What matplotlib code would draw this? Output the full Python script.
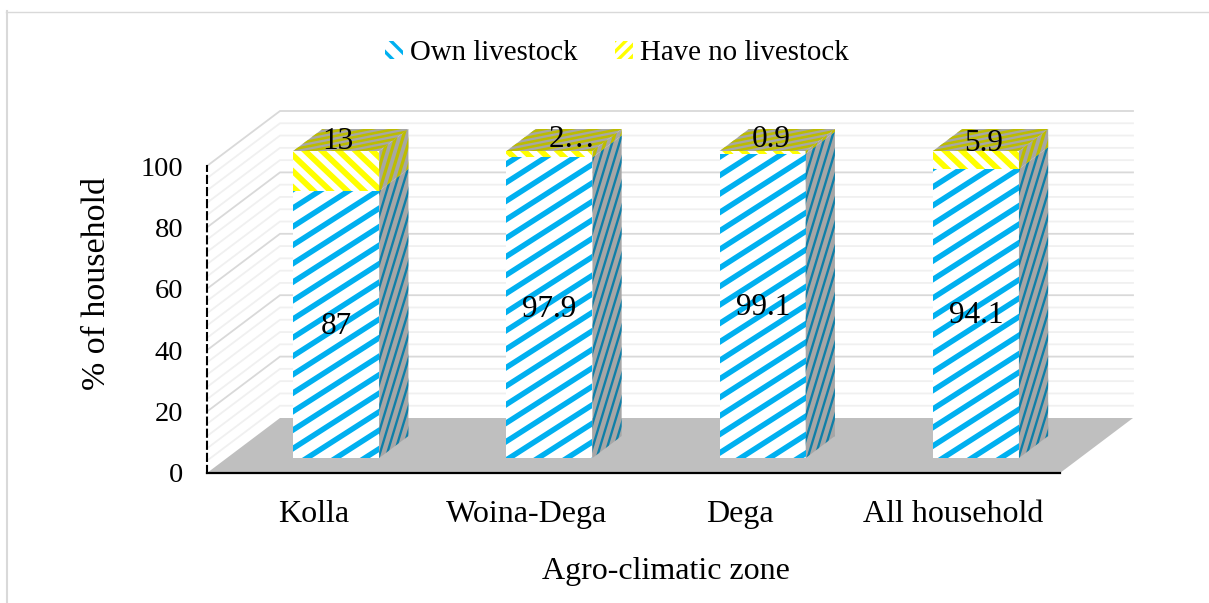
import numpy as np
import matplotlib
matplotlib.use("Agg")
import matplotlib.pyplot as plt
from matplotlib.patches import Polygon, Patch
from matplotlib.collections import LineCollection
from matplotlib.lines import Line2D
from matplotlib.transforms import IdentityTransform

categories = ["Kolla", "Woina-Dega", "Dega", "All household"]
own = [87, 97.9, 99.1, 94.1]
none_ = [13, 2.1, 0.9, 5.9]
own_labels = ["87", "97.9", "99.1", "94.1"]
none_labels = ["13", "2…", "0.9", "5.9"]
none_label_shift_px = [(2, 29), (23, 15), (8, 13), (8, 17)]
series_names = ["Own livestock", "Have no livestock"]
yticks = [0, 20, 40, 60, 80, 100]

plt.rcParams["font.family"] = ["Liberation Serif", "DejaVu Serif"]
plt.rcParams["hatch.linewidth"] = 2.4
FS_DATA, FS_TICK, FS_CAT, FS_XL, FS_YL, FS_LEG = 22.5, 20.5, 23, 23, 24.5, 20.8
W, H = 1209, 603
fig = plt.figure(figsize=(W / 100, H / 100), dpi=100, facecolor="white")
ax = fig.add_axes([207 / W, (H - 473) / H, 853 / W, 307 / H])
ax.set_xlim(0, 4)
ax.set_ylim(0, 100)
ax.patch.set_visible(False)

ux, uy = 853 / 4, 307 / 100      # px per data unit
DX, DY = 73 / ux, 55 / uy        # full chart depth, data units
d0 = 15 / 55                     # bar front plane (fraction of depth)
bd = 22 / 55                     # bar depth (fraction of depth)
BW = 86 / ux
BO = 66.3 / ux


def prj(x, y, d):
    return (x + d * DX, y + d * DY)


# floor
ax.add_patch(Polygon([prj(0, 0, 0), prj(4, 0, 0), prj(4, 0, 1), prj(0, 0, 1)],
                     closed=True, fc="#BFBFBF", ec="none", clip_on=False, zorder=1))
# walls grid
for v in range(4, 101, 4):
    major = v % 20 == 0
    c = "#D9D9D9" if major else "#F0F0F0"
    ax.plot(*zip(prj(0, v, 0), prj(0, v, 1), prj(4, v, 1)), color=c, lw=1.3,
            clip_on=False, zorder=0.5, solid_joinstyle="miter")


def stripes(clip, slope, vperiod, vthick, color, phase=0, z=3):
    bb = clip.get_path().transformed(clip.get_transform()).get_extents()
    x0, x1 = bb.x0 - 2, bb.x1 + 2
    lo = bb.y0 - max(slope * x0, slope * x1) - vperiod
    hi = bb.y1 - min(slope * x0, slope * x1) + vperiod
    k0 = np.floor((lo - phase) / vperiod)
    k1 = np.ceil((hi - phase) / vperiod)
    segs = []
    for k in np.arange(k0, k1 + 1):
        c = k * vperiod + phase
        segs.append([(x0, slope * x0 + c), (x1, slope * x1 + c)])
    lw = vthick * np.cos(np.arctan(abs(slope))) * 0.72
    lc = LineCollection(segs, colors=color, linewidths=lw, transform=IdentityTransform(),
                        zorder=z, capstyle="butt")
    ax.add_collection(lc, autolim=False)
    lc.set_clip_box(None)
    lc.set_clip_path(clip.get_path(), clip.get_transform())


BLUE, YEL = "#00B0F0", "#FFFF00"
DBLUE, GREY, OLIVE = "#0E7FA8", "#A6A6A6", "#BDBD00"

left = np.arange(4) + BO + d0 * DX
base = d0 * DY
bars_own = ax.bar(left, own, width=BW, bottom=base, align="edge", color="white",
                  lw=0, zorder=2, clip_on=False)
bars_non = ax.bar(left, none_, width=BW, bottom=base + np.array(own), align="edge",
                  color="white", lw=0, zorder=2, clip_on=False)

for i in range(4):
    xl = left[i]
    xr = xl + BW
    o, n = own[i], none_[i]
    sdx, sdy = bd * DX, bd * DY
    stripes(bars_own[i], 0.64, 18.5, 6.5, BLUE, phase=4)
    stripes(bars_non[i], -0.95, 16, 8, YEL, phase=6)
    # side faces
    s1 = Polygon([(xr, base), (xr + sdx, base + sdy), (xr + sdx, base + sdy + o), (xr, base + o)],
                 closed=True, fc=GREY, ec="none", zorder=2, clip_on=False)
    s2 = Polygon([(xr, base + o), (xr + sdx, base + sdy + o), (xr + sdx, base + sdy + o + n),
                  (xr, base + o + n)], closed=True, fc=GREY, ec="none", zorder=2, clip_on=False)
    t = Polygon([(xl, base + 100), (xr, base + 100), (xr + sdx, base + sdy + 100),
                 (xl + sdx, base + sdy + 100)], closed=True, fc=GREY, ec="none", zorder=2, clip_on=False)
    for p in (s1, s2, t):
        ax.add_patch(p)
    stripes(s1, 3.3, 24, 8, DBLUE)
    stripes(s2, 3.3, 24, 11, OLIVE)
    stripes(t, 0.2, 5, 2.6, OLIVE)
    cx = xl + BW / 2
    ax.annotate(own_labels[i], (cx, base + o / 2), xytext=(0, -2 * 0.72),
                textcoords="offset points", ha="center", va="center", fontsize=FS_DATA,
                color="black", zorder=5, annotation_clip=False)
    sx, sy = none_label_shift_px[i]
    ax.annotate(none_labels[i], (cx, base + o + n / 2), xytext=(sx * 0.72, sy * 0.72),
                textcoords="offset points", ha="center", va="center", fontsize=FS_DATA,
                color="black", zorder=5, annotation_clip=False)

# axes
for s in ("top", "right"):
    ax.spines[s].set_visible(False)
ax.spines["left"].set_linestyle((0, (3.4, 2.4)))
ax.spines["left"].set_linewidth(1.5)
ax.spines["bottom"].set_linewidth(1.6)
ax.spines["left"].set_zorder(4)
ax.spines["bottom"].set_zorder(4)
ax.set_yticks(yticks)
ax.set_xticks(np.arange(4) + 0.5)
ax.set_xticklabels(categories)
ax.tick_params(axis="both", length=0)
ax.tick_params(axis="y", pad=24 * 0.72, labelsize=FS_TICK)
ax.tick_params(axis="x", pad=27 * 0.72, labelsize=FS_CAT)
ax.set_ylabel("% of household", fontsize=FS_YL, va="center")
ax.yaxis.set_label_coords((97 - 207) / 853, (473 - 284) / 307)
ax.set_xlabel("Agro-climatic zone", fontsize=FS_XL, va="center")
ax.xaxis.set_label_coords((666 - 207) / 853, (473 - 571) / 307)

# legend
handles = [Patch(facecolor="white", edgecolor=BLUE, hatch="\\\\", lw=0, label=series_names[0]),
           Patch(facecolor="white", edgecolor=YEL, hatch="///", lw=0, label=series_names[1])]
fig.legend(handles=handles, loc="center", bbox_to_anchor=(617 / W, 1 - 53 / H), ncol=2,
           frameon=False, fontsize=FS_LEG, handlelength=0.6, handleheight=0.6,
           handletextpad=0.25, columnspacing=1.3)

# outer frame
fig.add_artist(Line2D([6.5 / W, 6.5 / W], [0, 1 - 11 / H], color="#D9D9D9", lw=1.5))
fig.add_artist(Line2D([6 / W, 1], [1 - 11.5 / H, 1 - 11.5 / H], color="#D9D9D9", lw=1.0))

fig.savefig("out.png", dpi=100)
